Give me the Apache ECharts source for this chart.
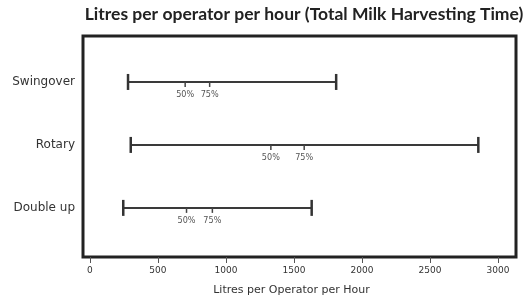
<!DOCTYPE html>
<html lang="en">
<head>
    <meta charset="UTF-8">
    <title>Litres per operator per hour</title>
    <script src="https://cdn.jsdelivr.net/npm/echarts@6.0.0/dist/echarts.min.js"></script>
    <style>
        body { margin: 0; background: #fff; }
    </style>
</head>
<body>
    <div id="main" style="width: 523px;height:301px;"></div>
    <script type="text/javascript">
        var myChart = echarts.init(document.getElementById('main'));

        // range of each parlour: lowest, 50%, 75%, highest
        let categories = ['Swingover', 'Rotary', 'Double up'];
        let lowVals = [280, 300, 245];
        let p50Vals = [700, 1330, 710];
        let p75Vals = [880, 1575, 900];
        let highVals = [1810, 2855, 1630];
        let xTicks = [0, 500, 1000, 1500, 2000, 2500, 3000];
        let pctLabels = ['50%', '75%'];

        let rows = categories.map((c, i) => [i, lowVals[i], p50Vals[i], p75Vals[i], highVals[i]]);

        let renderWhisker = (params, api) => {
            let idx = api.value(0);
            let a = api.coord([api.value(1), idx]);
            let m1 = api.coord([api.value(2), idx]);
            let m2 = api.coord([api.value(3), idx]);
            let b = api.coord([api.value(4), idx]);
            let y = a[1];
            let line = { stroke: '#3a3a3a', lineWidth: 2 };
            let tick = { stroke: '#444', lineWidth: 1.5 };
            let txt = (x, t) => ({
                type: 'text',
                x: x, y: y + 8,
                style: { text: t, fill: '#555', font: '9px "DejaVu Sans Condensed", sans-serif', align: 'center', verticalAlign: 'top' }
            });
            return {
                type: 'group',
                children: [
                    { type: 'line', shape: { x1: a[0], y1: y, x2: b[0], y2: y }, style: line },
                    { type: 'line', shape: { x1: a[0], y1: y - 8, x2: a[0], y2: y + 8 }, style: { stroke: '#333', lineWidth: 2.5 } },
                    { type: 'line', shape: { x1: b[0], y1: y - 8, x2: b[0], y2: y + 8 }, style: { stroke: '#333', lineWidth: 2.5 } },
                    { type: 'line', shape: { x1: m1[0], y1: y, x2: m1[0], y2: y + 5 }, style: tick },
                    { type: 'line', shape: { x1: m2[0], y1: y, x2: m2[0], y2: y + 5 }, style: tick },
                    txt(m1[0], pctLabels[0]),
                    txt(m2[0], pctLabels[1])
                ]
            };
        };

        let option = {
            animation: false,
            title: {
                text: 'Litres per operator per hour (Total Milk Harvesting Time)',
                left: 299,
                textAlign: 'center',
                top: 0,
                textStyle: {
                    fontFamily: 'Lato',
                    fontWeight: 'bold',
                    fontSize: 17.5,
                    color: '#222'
                }
            },
            grid: {
                left: 83,
                right: 7,
                top: 36,
                bottom: 44,
                show: true,
                borderColor: '#222',
                borderWidth: 3,
                backgroundColor: '#fff'
            },
            xAxis: {
                type: 'value',
                min: -51,
                max: 3132,
                splitLine: { show: false },
                axisLine: { show: false, onZero: false },
                axisTick: {
                    show: true,
                    customValues: xTicks,
                    length: 6,
                    lineStyle: { color: '#555' }
                },
                axisLabel: {
                    customValues: xTicks,
                    formatter: (v) => String(v),
                    fontSize: 9,
                    color: '#333',
                    fontFamily: 'DejaVu Sans',
                    margin: 9
                },
                name: 'Litres per Operator per Hour',
                nameLocation: 'middle',
                nameGap: 28,
                nameTextStyle: {
                    fontSize: 11,
                    color: '#333',
                    fontFamily: 'DejaVu Sans',
                    padding: [0, 16, 0, 0]
                }
            },
            yAxis: {
                type: 'value',
                inverse: true,
                min: -0.73,
                max: 2.78,
                splitLine: { show: false },
                axisLine: { show: false, onZero: false },
                axisTick: { show: false },
                axisLabel: {
                    customValues: [0, 1, 2],
                    formatter: (v) => categories[Math.round(v)],
                    fontSize: 12,
                    color: '#333',
                    fontFamily: 'DejaVu Sans',
                    margin: 8
                }
            },
            series: [
                {
                    type: 'custom',
                    renderItem: renderWhisker,
                    encode: { x: [1, 2, 3, 4], y: 0 },
                    data: rows
                }
            ]
        };

        myChart.setOption(option);
    </script>
</body>
</html>
